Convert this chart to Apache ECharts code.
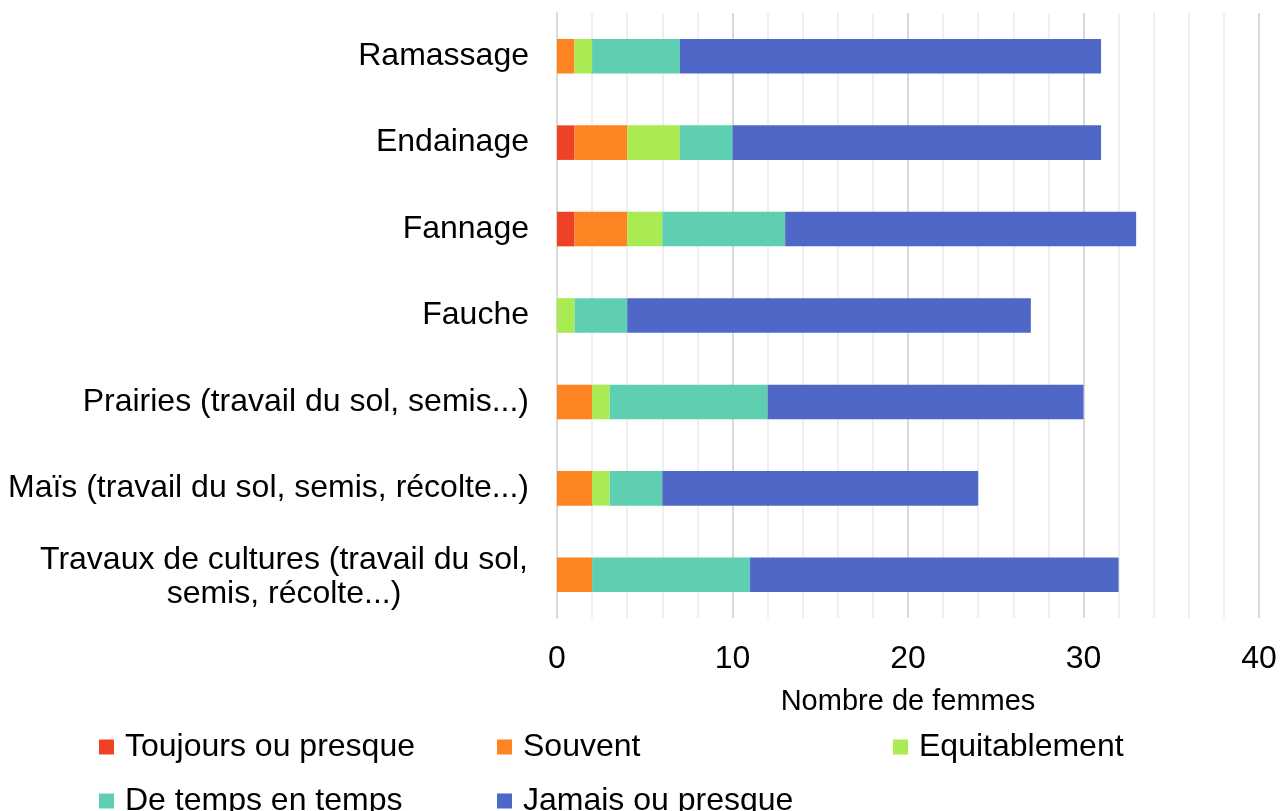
<!DOCTYPE html>
<html>
<head>
<meta charset="utf-8">
<script src="https://cdn.jsdelivr.net/npm/echarts@6/dist/echarts.min.js"></script>
<style>
    html, body { margin: 0; padding: 0; background: #fff; }
    #chart { width: 1280px; height: 811px; }
</style>
</head>
<body>
<div id="chart"></div>
<script>
    // catégories, du haut vers le bas
    const categories = [
        'Ramassage',
        'Endainage',
        'Fannage',
        'Fauche',
        'Prairies (travail du sol, semis...)',
        'Maïs (travail du sol, semis, récolte...)',
        'Travaux de cultures (travail du sol,\nsemis, récolte...)'
    ];
    const xTicks = [0, 10, 20, 30, 40];

    const toujours = [0, 1, 1, 0, 0, 0, 0];
    const souvent = [1, 3, 3, 0, 2, 2, 2];
    const equitablement = [1, 3, 2, 1, 1, 1, 0];
    const deTempsEnTemps = [5, 3, 7, 3, 9, 3, 9];
    const jamais = [24, 21, 20, 23, 18, 18, 21];

    const seriesNames = ['Toujours ou presque', 'Souvent', 'Equitablement', 'De temps en temps', 'Jamais ou presque'];
    const seriesData = [toujours, souvent, equitablement, deTempsEnTemps, jamais];
    const colors = ['#ef4126', '#fd8421', '#aaea52', '#5ecfb1', '#4f68c7'];

    const font = "'Liberation Sans', Arial, sans-serif";

    // positions de la légende (deux lignes, trois colonnes)
    const legendPos = [
        { left: 94, top: 726 },
        { left: 492, top: 726 },
        { left: 888, top: 726 },
        { left: 94, top: 780 },
        { left: 492, top: 780 }
    ];

    const myChart = echarts.init(document.getElementById('chart'));

    const option = {
        animation: false,
        color: colors,
        textStyle: { fontFamily: font },
        grid: { left: 557, right: 21, top: 13, bottom: 193, containLabel: false },
        legend: seriesNames.map((name, i) => ({
            data: [name],
            left: legendPos[i].left,
            top: legendPos[i].top,
            icon: 'rect',
            itemWidth: 15,
            itemHeight: 15,
            itemGap: 0,
            selectedMode: false,
            textStyle: { fontSize: 32, color: '#000', fontFamily: font, padding: [0, 0, 0, 6] }
        })),
        xAxis: {
            type: 'value',
            min: 0,
            max: 40,
            interval: 10,
            name: 'Nombre de femmes',
            nameLocation: 'middle',
            nameGap: 69,
            nameTextStyle: { fontSize: 29, color: '#000', fontFamily: font },
            axisLine: { show: false },
            axisTick: { show: false },
            axisLabel: {
                fontSize: 32, color: '#000', margin: 25, fontFamily: font,
                formatter: (v) => xTicks.includes(v) ? String(v) : ''
            },
            splitLine: { show: true, lineStyle: { color: '#d9d9d9', width: 2 } },
            minorTick: { show: false, splitNumber: 5 },
            minorSplitLine: { show: true, lineStyle: { color: '#efefef', width: 2 } }
        },
        yAxis: {
            type: 'category',
            data: categories,
            inverse: true,
            axisLine: { show: true, lineStyle: { color: '#d9d9d9', width: 2 } },
            axisTick: { show: false },
            axisLabel: {
                fontSize: 32, color: '#000', margin: 28, fontFamily: font,
                formatter: (v) => {
                    if (v.indexOf('\n') < 0) return v;
                    const lines = v.split('\n');
                    return lines.map((s, k) => (k === 0 ? '{a|' : '{c|') + s + '}').join('\n');
                },
                rich: {
                    a: { width: 490, align: 'center', fontSize: 32, lineHeight: 39, padding: [10, 0, 0, 0], color: '#000', fontFamily: font },
                    c: { width: 490, align: 'center', fontSize: 32, lineHeight: 39, color: '#000', fontFamily: font }
                }
            }
        },
        series: seriesNames.map((name, i) => ({
            name: name,
            type: 'bar',
            stack: 'total',
            data: seriesData[i],
            barCategoryGap: '60%',
            itemStyle: { color: colors[i] }
        }))
    };

    myChart.setOption(option);
    window.onresize = () => {
        myChart.resize();
    };
</script>
</body>
</html>
